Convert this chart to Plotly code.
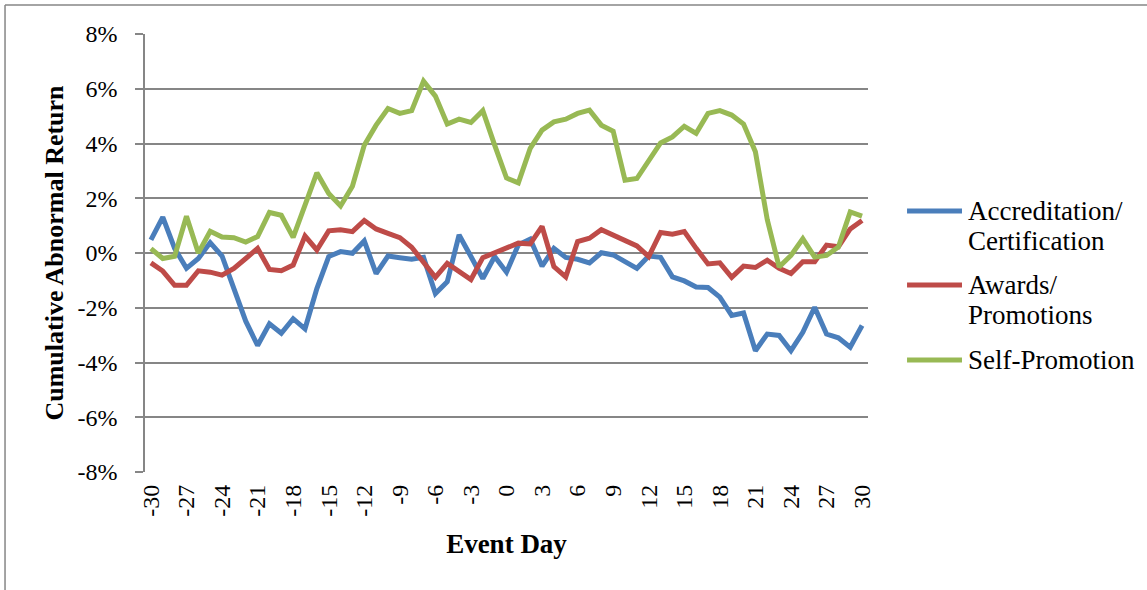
import plotly.graph_objects as go

# Event window (days relative to the announcement)
event_day = list(range(-30, 31))

# Cumulative abnormal returns, in percent
accreditation = [0.48, 1.31, 0.17, -0.56, -0.20, 0.38, -0.11, -1.30, -2.49, -3.38,
                 -2.59, -2.93, -2.40, -2.77, -1.30, -0.13, 0.05, -0.01, 0.44, -0.75,
                 -0.11, -0.17, -0.23, -0.16, -1.48, -1.05, 0.66, -0.13, -0.93, -0.13,
                 -0.70, 0.30, 0.51, -0.48, 0.17, -0.16, -0.23, -0.36, 0.01, -0.07,
                 -0.32, -0.56, -0.11, -0.16, -0.87, -1.02, -1.24, -1.26, -1.61, -2.28,
                 -2.19, -3.57, -2.96, -3.01, -3.57, -2.90, -1.98, -2.96, -3.10, -3.44, -2.65]
awards = [-0.36, -0.66, -1.18, -1.18, -0.65, -0.70, -0.81, -0.56, -0.20, 0.17,
          -0.60, -0.65, -0.44, 0.62, 0.11, 0.81, 0.85, 0.78, 1.19, 0.88,
          0.72, 0.56, 0.21, -0.32, -0.89, -0.38, -0.69, -0.97, -0.17, 0.01,
          0.19, 0.36, 0.33, 0.97, -0.50, -0.87, 0.42, 0.54, 0.85, 0.66,
          0.48, 0.26, -0.13, 0.75, 0.69, 0.78, 0.17, -0.40, -0.36, -0.89,
          -0.48, -0.53, -0.26, -0.56, -0.75, -0.32, -0.32, 0.29, 0.23, 0.88, 1.19]
self_promotion = [0.16, -0.20, -0.12, 1.34, 0.00, 0.79, 0.58, 0.56, 0.40, 0.60,
                  1.48, 1.38, 0.57, 1.74, 2.93, 2.17, 1.72, 2.44, 3.94, 4.67,
                  5.28, 5.10, 5.20, 6.28, 5.73, 4.71, 4.89, 4.77, 5.20, 3.94,
                  2.74, 2.56, 3.82, 4.49, 4.79, 4.89, 5.10, 5.22, 4.67, 4.45,
                  2.66, 2.72, 3.39, 4.02, 4.24, 4.63, 4.37, 5.10, 5.20, 5.04,
                  4.71, 3.70, 1.22, -0.51, -0.09, 0.52, -0.15, -0.09, 0.22, 1.50, 1.35]

# Legend labels, one list entry per printed line
series_names = [["Accreditation/", "Certification"], ["Awards/", "Promotions"], ["Self-Promotion"]]
series_values = [accreditation, awards, self_promotion]
series_colors = ["#4A7EBB", "#BE4B48", "#98B954"]

y_ticks = [-8, -6, -4, -2, 0, 2, 4, 6, 8]
x_ticks = list(range(-30, 31, 3))

FONT = "Liberation Serif"
GRID = "#868686"

fig = go.Figure()
for lines, vals, col in zip(series_names, series_values, series_colors):
    fig.add_trace(go.Scatter(x=event_day, y=vals, mode="lines", name=" ".join(lines),
                             line=dict(color=col, width=5), showlegend=False))

# Hand-built legend on the right (paper coordinates of the plot area)
legend_top_y = [0.5959, 0.4269, 0.2557]
line_step = 0.0685
for lines, col, ly in zip(series_names, series_colors, legend_top_y):
    fig.add_shape(type="line", xref="paper", yref="paper", x0=1.054, x1=1.130,
                  y0=ly, y1=ly, line=dict(color=col, width=5))
    for k, txt in enumerate(lines):
        fig.add_annotation(xref="paper", yref="paper", x=1.135, y=ly - k * line_step,
                           text=txt, showarrow=False, xanchor="left", yanchor="middle",
                           font=dict(family=FONT, size=27, color="black"))

# Outer chart border (left and top edges)
fig.add_shape(type="line", xref="paper", yref="paper", x0=-0.1936, x1=-0.1936,
              y0=-0.4, y1=1.0662, line=dict(color=GRID, width=1.5))
fig.add_shape(type="line", xref="paper", yref="paper", x0=-0.1936, x1=1.5,
              y0=1.0662, y1=1.0662, line=dict(color=GRID, width=1.5))

fig.update_layout(
    width=1147, height=590,
    margin=dict(l=145, r=279, t=34, b=118),
    paper_bgcolor="white", plot_bgcolor="white",
    font=dict(family=FONT, size=24, color="black"),
    xaxis=dict(
        range=[-30.5, 30.5], tickmode="array", tickvals=x_ticks,
        ticktext=[str(v) for v in x_ticks], tickangle=-90,
        showgrid=False, zeroline=False, showline=False, ticks="",
        ticklabelstandoff=7,
        title=dict(text="<b>Event Day</b>", font=dict(family=FONT, size=27), standoff=18),
    ),
    xaxis2=dict(
        overlaying="x", anchor="free", position=0.5, range=[-30.5, 30.5],
        tickmode="array", tickvals=[d - 0.5 for d in event_day] + [30.5],
        showticklabels=False, ticks="outside", ticklen=6, tickwidth=1.5, tickcolor=GRID,
        showline=True, linecolor=GRID, linewidth=1.5, showgrid=False, zeroline=False,
        layer="below traces",
    ),
    yaxis=dict(
        range=[-8, 8], tickmode="array", tickvals=y_ticks,
        ticktext=[f"{v}%" for v in y_ticks],
        showgrid=True, gridcolor=GRID, gridwidth=1.5, zeroline=False,
        showline=True, linecolor=GRID, linewidth=1.5,
        ticks="outside", ticklen=8, tickwidth=1.5, tickcolor=GRID,
        ticklabelstandoff=13, layer="below traces",
        title=dict(text="<b>Cumulative Abnormal Return</b>", font=dict(family=FONT, size=26), standoff=6),
    ),
)

fig.write_html("out.html")
